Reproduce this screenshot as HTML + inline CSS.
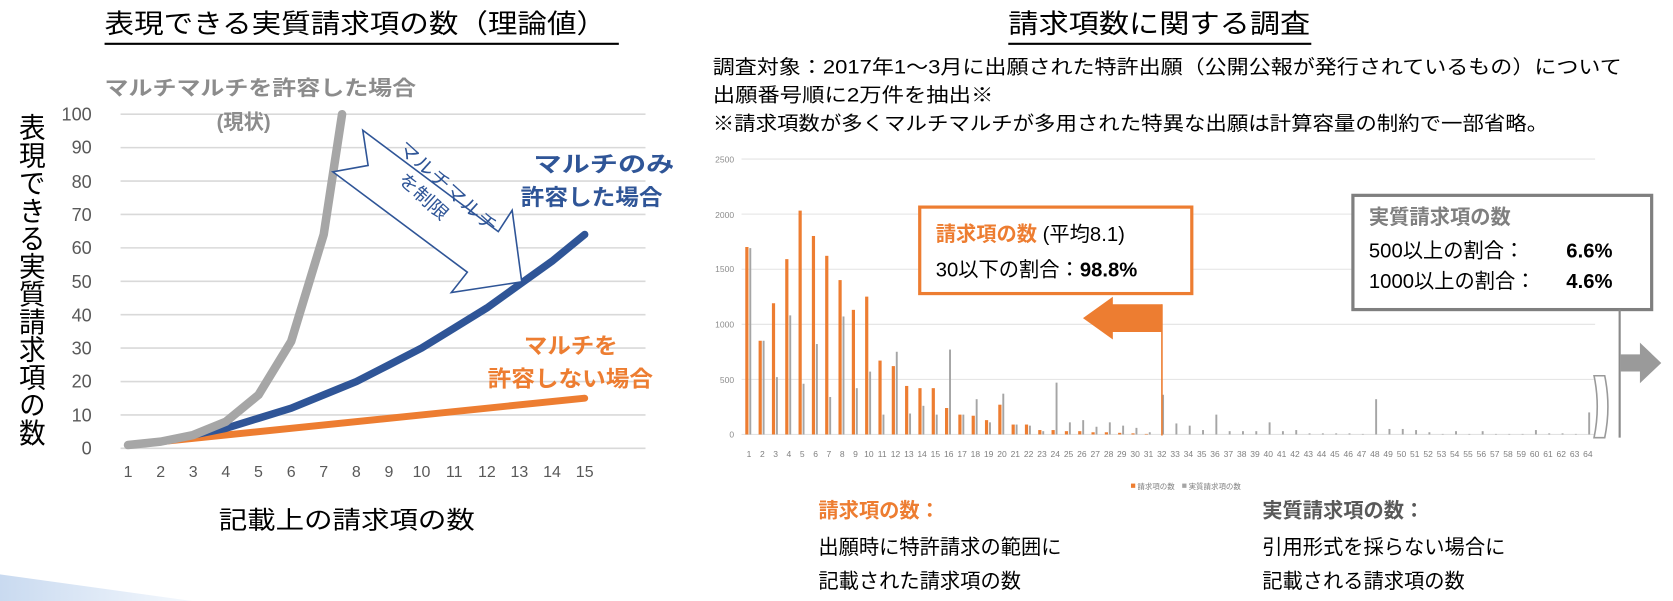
<!DOCTYPE html>
<html><head><meta charset="utf-8">
<style>
html,body{margin:0;padding:0;background:#fff;}
svg{display:block;}
text{font-family:"Liberation Sans","Noto Sans CJK JP",sans-serif;}
</style></head>
<body>
<svg id="s" width="1673" height="601" viewBox="0 0 1568 563" preserveAspectRatio="none" xmlns="http://www.w3.org/2000/svg">
<defs>
<linearGradient id="sw" x1="0" y1="0" x2="1" y2="0"><stop offset="0" stop-color="#c9daf0"/><stop offset="1" stop-color="#f4f8fd"/></linearGradient>
</defs>
<polygon points="0,538 180,563 0,563" fill="url(#sw)"/>

<!-- LEFT -->
<text x="98" y="31" font-size="25" fill="#000" textLength="470" lengthAdjust="spacingAndGlyphs">表現できる実質請求項の数（理論値）</text>
<line x1="98" y1="41" x2="580" y2="41" stroke="#000" stroke-width="2"/>

<g stroke="#d9d9d9" stroke-width="1.5">
<line x1="113" y1="107" x2="605" y2="107"/><line x1="113" y1="138.3" x2="605" y2="138.3"/>
<line x1="113" y1="169.6" x2="605" y2="169.6"/><line x1="113" y1="200.9" x2="605" y2="200.9"/>
<line x1="113" y1="232.2" x2="605" y2="232.2"/><line x1="113" y1="263.5" x2="605" y2="263.5"/>
<line x1="113" y1="294.8" x2="605" y2="294.8"/><line x1="113" y1="326.1" x2="605" y2="326.1"/>
<line x1="113" y1="357.4" x2="605" y2="357.4"/><line x1="113" y1="388.7" x2="605" y2="388.7"/>
<line x1="113" y1="420" x2="605" y2="420"/>
</g>
<g font-size="17" fill="#595959" text-anchor="end">
<text x="86" y="113">100</text><text x="86" y="144">90</text><text x="86" y="176">80</text>
<text x="86" y="207">70</text><text x="86" y="238">60</text><text x="86" y="270">50</text>
<text x="86" y="301">40</text><text x="86" y="332">30</text><text x="86" y="363">20</text>
<text x="86" y="395">10</text><text x="86" y="426">0</text>
</g>
<g font-size="15" fill="#595959" text-anchor="middle">
<text x="120" y="447">1</text><text x="150.6" y="447">2</text><text x="181.1" y="447">3</text>
<text x="211.7" y="447">4</text><text x="242.3" y="447">5</text><text x="272.9" y="447">6</text>
<text x="303.4" y="447">7</text><text x="334" y="447">8</text><text x="364.6" y="447">9</text>
<text x="395.1" y="447">10</text><text x="425.7" y="447">11</text><text x="456.3" y="447">12</text>
<text x="486.8" y="447">13</text><text x="517.4" y="447">14</text><text x="548" y="447">15</text>
</g>
<text x="28" y="106" font-size="25" fill="#000" style="writing-mode:vertical-rl" textLength="312" lengthAdjust="spacingAndGlyphs">表現できる実質請求項の数</text>
<text x="205" y="495" font-size="23" fill="#000" textLength="240" lengthAdjust="spacingAndGlyphs">記載上の請求項の数</text>

<polyline fill="none" stroke="#ed7d31" stroke-width="6.5" stroke-linecap="round" stroke-linejoin="round" points="120,416.9 548,373"/>
<polyline fill="none" stroke="#2f5597" stroke-width="7" stroke-linecap="round" stroke-linejoin="round" points="120,416.9 150.6,413.7 181.1,407.5 211.7,401.2 242.3,391.8 272.9,382.4 303.4,369.9 334,357.4 364.6,341.8 395.1,326.1 425.7,307.3 456.3,288.5 486.8,266.6 517.4,244.7 548,219.7"/>
<polyline fill="none" stroke="#a6a6a6" stroke-width="8" stroke-linecap="round" stroke-linejoin="round" points="120,416.9 150.6,413.7 181.1,407.5 211.7,395 242.3,369.9 272.9,319.8 303.4,219.7 320.6,107"/>

<text x="98" y="89" font-size="19" font-weight="bold" fill="#8c8c8c" textLength="292" lengthAdjust="spacingAndGlyphs">マルチマルチを許容した場合</text>
<text x="203" y="121" font-size="19" font-weight="bold" fill="#8c8c8c">(現状)</text>
<text x="500" y="161" font-size="21" font-weight="bold" fill="#2f5597" textLength="132" lengthAdjust="spacingAndGlyphs">マルチのみ</text>
<text x="488" y="192" font-size="21" font-weight="bold" fill="#2f5597" textLength="133" lengthAdjust="spacingAndGlyphs">許容した場合</text>
<text x="491" y="331" font-size="21" font-weight="bold" fill="#ed7d31" textLength="88" lengthAdjust="spacingAndGlyphs">マルチを</text>
<text x="457" y="362" font-size="21" font-weight="bold" fill="#ed7d31" textLength="155" lengthAdjust="spacingAndGlyphs">許容しない場合</text>

<polygon points="340,122 467,217 480,197 489,264 423,274 438,255 312,161 345,155" fill="#fff" stroke="#2f5597" stroke-width="1.5"/>
<g transform="translate(372,140) rotate(42)" font-size="17" fill="#2f5597">
<text x="0" y="0" textLength="118" lengthAdjust="spacingAndGlyphs">マルチマルチ</text>
<text x="20" y="22" textLength="56" lengthAdjust="spacingAndGlyphs">を制限</text>
</g>

<!-- RIGHT -->
<text x="945" y="31" font-size="25" fill="#000" textLength="283" lengthAdjust="spacingAndGlyphs">請求項数に関する調査</text>
<line x1="945" y1="41" x2="1229" y2="41" stroke="#000" stroke-width="2"/>
<text x="668" y="69" font-size="18" fill="#000" textLength="852" lengthAdjust="spacingAndGlyphs">調査対象：2017年1～3月に出願された特許出願（公開公報が発行されているもの）について</text>
<text x="668" y="95" font-size="18" fill="#000" textLength="263" lengthAdjust="spacingAndGlyphs">出願番号順に2万件を抽出※</text>
<text x="668" y="122" font-size="18" fill="#000" textLength="783" lengthAdjust="spacingAndGlyphs">※請求項数が多くマルチマルチが多用された特異な出願は計算容量の制約で一部省略。</text>

<g stroke="#e3e3e3" stroke-width="1">
<line x1="695" y1="149" x2="1495" y2="149"/><line x1="695" y1="200.6" x2="1495" y2="200.6"/>
<line x1="695" y1="252.2" x2="1495" y2="252.2"/><line x1="695" y1="303.8" x2="1495" y2="303.8"/>
<line x1="695" y1="355.4" x2="1495" y2="355.4"/><line x1="695" y1="407" x2="1495" y2="407"/>
</g>
<g font-size="8" fill="#8c8c8c" text-anchor="end">
<text x="688" y="152">2500</text><text x="688" y="204">2000</text><text x="688" y="255">1500</text>
<text x="688" y="307">1000</text><text x="688" y="359">500</text><text x="688" y="410">0</text>
</g>
<g id="bars"></g>
<g id="xl" font-size="8" fill="#7f7f7f" text-anchor="middle">
<text x="702" y="428">1</text><text x="714.5" y="428">2</text><text x="727" y="428">3</text><text x="739.4" y="428">4</text><text x="751.9" y="428">5</text><text x="764.4" y="428">6</text><text x="776.9" y="428">7</text><text x="789.4" y="428">8</text><text x="801.8" y="428">9</text><text x="814.3" y="428">10</text><text x="826.8" y="428">11</text><text x="839.3" y="428">12</text><text x="851.8" y="428">13</text><text x="864.2" y="428">14</text><text x="876.7" y="428">15</text><text x="889.2" y="428">16</text><text x="901.7" y="428">17</text><text x="914.2" y="428">18</text><text x="926.6" y="428">19</text><text x="939.1" y="428">20</text><text x="951.6" y="428">21</text><text x="964.1" y="428">22</text><text x="976.6" y="428">23</text><text x="989" y="428">24</text><text x="1001.5" y="428">25</text><text x="1014" y="428">26</text><text x="1026.5" y="428">27</text><text x="1039" y="428">28</text><text x="1051.4" y="428">29</text><text x="1063.9" y="428">30</text><text x="1076.4" y="428">31</text><text x="1088.9" y="428">32</text><text x="1101.4" y="428">33</text><text x="1113.8" y="428">34</text><text x="1126.3" y="428">35</text><text x="1138.8" y="428">36</text><text x="1151.3" y="428">37</text><text x="1163.8" y="428">38</text><text x="1176.2" y="428">39</text><text x="1188.7" y="428">40</text><text x="1201.2" y="428">41</text><text x="1213.7" y="428">42</text><text x="1226.2" y="428">43</text><text x="1238.6" y="428">44</text><text x="1251.1" y="428">45</text><text x="1263.6" y="428">46</text><text x="1276.1" y="428">47</text><text x="1288.6" y="428">48</text><text x="1301" y="428">49</text><text x="1313.5" y="428">50</text><text x="1326" y="428">51</text><text x="1338.5" y="428">52</text><text x="1351" y="428">53</text><text x="1363.4" y="428">54</text><text x="1375.9" y="428">55</text><text x="1388.4" y="428">56</text><text x="1400.9" y="428">57</text><text x="1413.4" y="428">58</text><text x="1425.8" y="428">59</text><text x="1438.3" y="428">60</text><text x="1450.8" y="428">61</text><text x="1463.3" y="428">62</text><text x="1475.8" y="428">63</text><text x="1488.2" y="428">64</text>
</g>
<rect x="1060" y="453" width="4" height="4" fill="#ed7d31"/>
<text x="1066" y="458" font-size="7" fill="#7f7f7f">請求項の数</text>
<rect x="1108" y="453" width="4" height="4" fill="#a5a5a5"/>
<text x="1114" y="458" font-size="7" fill="#7f7f7f">実質請求項の数</text>

<!-- bracket -->
<path d="M1494,352 L1504,352 Q1510,381 1504,410 L1494,410 Q1500,381 1494,352 Z" fill="#fff" stroke="#9a9a9a" stroke-width="1.5"/>

<!-- orange box -->
<rect x="862" y="194" width="255" height="81" fill="#fff" stroke="#ed7d31" stroke-width="3"/>
<text x="877" y="226" font-size="19"><tspan font-weight="bold" fill="#ed7d31">請求項の数</tspan><tspan fill="#000"> (平均8.1)</tspan></text>
<text x="877" y="259" font-size="19" fill="#000">30以下の割合：<tspan font-weight="bold">98.8%</tspan></text>
<polygon points="1015,298 1043,278 1043,285 1089,285 1089,311 1043,311 1043,318" fill="#ed7d31"/>
<line x1="1089" y1="285" x2="1089" y2="408" stroke="#ed7d31" stroke-width="1.5"/>

<!-- grey box -->
<rect x="1268" y="183" width="280" height="107" fill="#fff" stroke="#7f7f7f" stroke-width="3"/>
<text x="1283" y="210" font-size="19" font-weight="bold" fill="#7f7f7f">実質請求項の数</text>
<text x="1283" y="241" font-size="19" fill="#000">500以上の割合：</text>
<text x="1468" y="241" font-size="19" font-weight="bold" fill="#000">6.6%</text>
<text x="1283" y="270" font-size="19" fill="#000">1000以上の割合：</text>
<text x="1468" y="270" font-size="19" font-weight="bold" fill="#000">4.6%</text>
<line x1="1518" y1="290" x2="1518" y2="410" stroke="#8a8a8a" stroke-width="2"/>
<polygon points="1519,332 1537,332 1537,321 1557,340 1537,359 1537,348 1519,348" fill="#9a9a9a"/>

<!-- bottom text -->
<g font-size="19">
<text x="767" y="485" font-weight="bold" fill="#ed7d31">請求項の数：</text>
<text x="767" y="519" fill="#000">出願時に特許請求の範囲に</text>
<text x="767" y="551" fill="#000">記載された請求項の数</text>
<text x="1183" y="485" font-weight="bold" fill="#595959">実質請求項の数：</text>
<text x="1183" y="519" fill="#000">引用形式を採らない場合に</text>
<text x="1183" y="551" fill="#000">記載される請求項の数</text>
</g>
</svg>
<script>
var o=[1700,850,1190,1590,2030,1800,1620,1400,1130,1250,670,620,440,420,420,240,180,170,130,270,90,90,40,40,30,30,20,20,15,10,5,0];
var g=[1690,850,520,1080,460,820,340,1070,420,570,180,750,190,260,180,770,180,320,110,370,90,80,30,470,110,130,70,110,80,60,20,360,100,80,40,180,30,30,30,110,30,40,10,10,10,10,5,320,50,50,40,20,5,30,5,30,5,5,5,40,10,10,5,200];
var s='',k=0.1033;
for(var i=0;i<64;i++){var x=702+i*12.48;
 var ov=o[i]||0; if(ov>0){s+='<rect x="'+(x-3.5)+'" y="'+(407-ov*k)+'" width="3" height="'+(ov*k)+'" fill="#ed7d31"/>';}
 var gv=g[i]; s+='<rect x="'+(x+0.3)+'" y="'+(407-gv*k)+'" width="1.8" height="'+(gv*k)+'" fill="#a5a5a5"/>';}
document.getElementById('bars').innerHTML=s;
</script>
</body></html>
